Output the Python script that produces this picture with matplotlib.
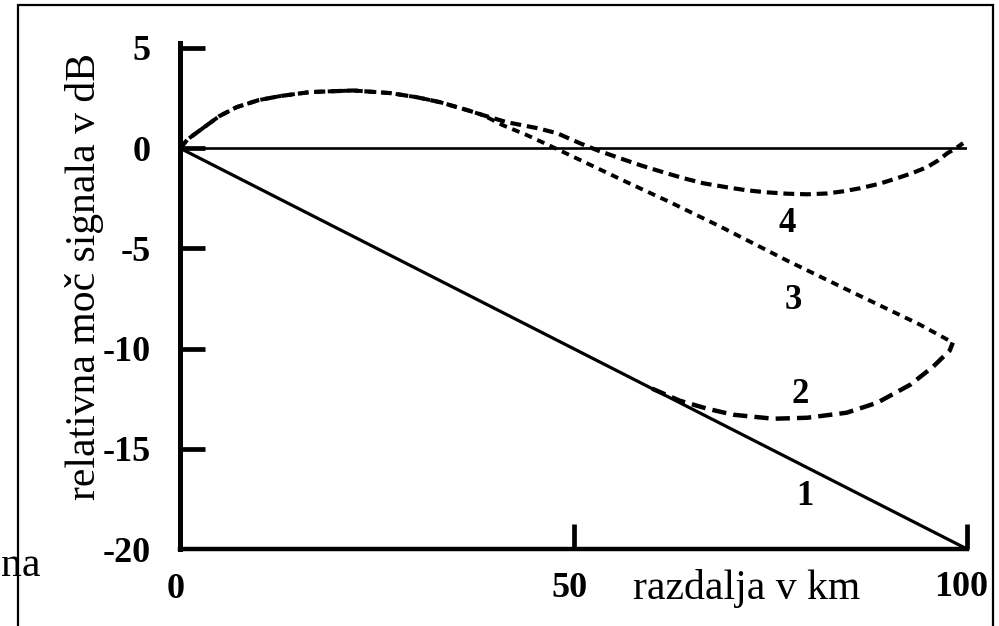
import matplotlib
matplotlib.use('Agg')
import matplotlib.pyplot as plt
from matplotlib.patches import Rectangle

# distance in km and relative signal power in dB
dist_1 = [0, 100]
power_1 = [0, -20]

dist_0 = [0, 100]
power_0 = [0, 0]

dist_4 = [0, 1, 2.9, 5, 7.2, 10, 12.7, 16.5, 22, 26.7, 30, 33, 36.5, 38.5, 41.5, 45.4, 47.9,
          50.8, 53, 55.9, 58.5, 61.4, 64, 66.5, 69.5, 72, 74.5, 77.1, 79.7, 82.2, 84.3, 86.4,
          88.8, 91.1, 93, 94.9, 96.3, 97.5, 98.6, 99.5]
power_4 = [0, 0.45, 1.0, 1.6, 2.05, 2.4, 2.6, 2.8, 2.88, 2.75, 2.55, 2.3, 1.9, 1.65, 1.3, 1.0, 0.75,
           0.25, -0.1, -0.5, -0.85, -1.2, -1.5, -1.75, -1.95, -2.1, -2.2, -2.27, -2.3, -2.26, -2.15, -2.0,
           -1.78, -1.5, -1.25, -0.95, -0.62, -0.25, 0.0, 0.25]

dist_3 = [0, 1, 2.9, 5, 7.2, 10, 12.7, 16.5, 22, 26.7, 30, 33, 36.5, 38.5, 41, 44.1, 47.4,
          51.7, 56.8, 62.3, 68.6, 77.1, 85.5, 94, 98.2]
power_3 = [0, 0.45, 1.0, 1.6, 2.05, 2.4, 2.6, 2.8, 2.88, 2.75, 2.55, 2.3, 1.9, 1.65, 1.15, 0.65, 0.05,
           -0.75, -1.7, -2.7, -3.9, -5.6, -7.2, -8.8, -9.7]

dist_2 = [60, 63.5, 67, 70.3, 75.4, 79.7, 84.7, 88.6, 92.8, 95.7, 97.8, 98.2]
power_2 = [-12.0, -12.6, -13.0, -13.3, -13.5, -13.45, -13.2, -12.7, -11.8, -10.9, -10.1, -9.7]

curve_labels = ['1', '2', '3', '4']
label_x = [79.4, 78.8, 77.9, 77.2]
label_y = [-17.4, -12.3, -7.6, -3.74]

y_ticks = [5, 0, -5, -10, -15, -20]
x_ticks = [0, 50, 100]

serif = 'Liberation Serif'

fig = plt.figure(figsize=(9.99, 6.26), dpi=100)
ax = fig.add_axes([180/999, 77/626, 787/999, 501/626])
ax.set_xlim(0, 100)
ax.set_ylim(-20, 5)

# frame round the whole picture, bottom edge runs off the page
fig.patches.append(Rectangle((18/999, -0.05), (993-18)/999, 1.05 - 5/626, transform=fig.transFigure,
                             fill=False, edgecolor='black', linewidth=1.6))
fig.text(1/999, (626-566)/626, 'na', family=serif, fontsize=30, ha='left', va='center')

ax.plot(dist_0, power_0, color='black', lw=1.9, solid_capstyle='butt')
ax.plot(dist_1, power_1, color='black', lw=2.3, solid_capstyle='butt', clip_on=False)
ax.plot(dist_4, power_4, color='black', lw=3.0, linestyle=(0, (2.6, 1.4)), clip_on=False)
ax.plot(dist_3, power_3, color='black', lw=2.8, linestyle=(0, (2.0, 1.5)), clip_on=False)
ax.plot(dist_2, power_2, color='black', lw=3.2, linestyle=(0, (3.2, 1.6)), clip_on=False)

for t, lx, ly in zip(curve_labels, label_x, label_y):
    ax.text(lx, ly, t, family=serif, fontweight='bold', fontsize=25, ha='center', va='center')

for s in ['top', 'right']:
    ax.spines[s].set_visible(False)
ax.spines['left'].set_linewidth(3.6)
ax.spines['bottom'].set_linewidth(3.2)
ax.spines['left'].set_bounds(-20, 5.25)

ax.set_yticks(y_ticks)
ax.set_yticklabels([str(v) for v in y_ticks])
ax.set_xticks(x_ticks)
ax.set_xticklabels([])
ax.tick_params(axis='y', direction='in', length=18, width=3.4, pad=21)
ax.tick_params(axis='x', direction='in', length=18, width=3.4)
ax.xaxis.get_major_ticks()[0].tick1line.set_visible(False)
ax.yaxis.get_major_ticks()[-1].tick1line.set_visible(False)
for lbl in ax.get_yticklabels():
    lbl.set_family(serif)
    lbl.set_fontweight('bold')
    lbl.set_fontsize(26)

# x tick numbers sit at slightly different heights
x_label_y = [-22.0, -21.95, -21.9]
x_label_dx = [-0.5, -0.5, -0.8]
for v, yy, dx in zip(x_ticks, x_label_y, x_label_dx):
    ax.text(v + dx, yy, str(v), family=serif, fontweight='bold', fontsize=26,
            ha='center', va='center', clip_on=False)

ax.text(72, -21.95, 'razdalja v km', family=serif, fontsize=30, ha='center', va='center', clip_on=False)
fig.text(85/999, (626-277)/626, 'relativna moč signala v dB', family=serif, fontsize=30,
         rotation=90, ha='center', va='center')

fig.savefig('out.png', dpi=100)
